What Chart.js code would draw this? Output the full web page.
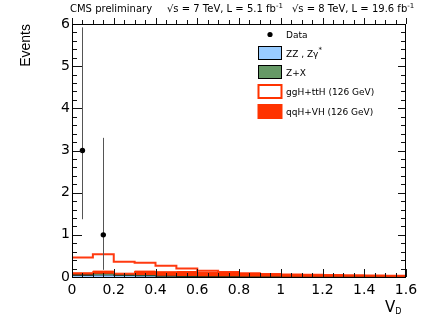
<!DOCTYPE html>
<html><head><meta charset="utf-8">
<script src="https://cdn.jsdelivr.net/npm/chart.js@4/dist/chart.umd.min.js"></script>
<style>html,body{margin:0;padding:0;background:#fff;overflow:hidden}canvas{display:block}</style>
</head><body>
<canvas id="c" width="427" height="327"></canvas>
<script>
// ---- data ----
const binEdges = [0,0.1,0.2,0.3,0.4,0.5,0.6,0.7,0.8,0.9,1.0,1.1,1.2,1.3,1.4,1.5,1.6];
const zzValues  = [0.04,0.05,0.035,0.03,0.02,0.015,0.012,0.01,0.007,0.006,0.005,0.004,0.003,0.003,0.002,0.002];
const zxValues  = [0.02,0.03,0.02,0.015,0.012,0.01,0.008,0.005,0.004,0.004,0.003,0.003,0.002,0.002,0.002,0.001];
const qqhValues = [0.04,0.06,0.035,0.095,0.093,0.105,0.09,0.085,0.069,0.05,0.042,0.038,0.035,0.03,0.026,0.022];
const gghValues = [0.36,0.40,0.27,0.20,0.14,0.07,0.04,0.02,0.01,0.01,0.008,0.007,0.007,0.007,0.007,0.007];
const dataX    = [0.05, 0.15];
const dataY    = [3, 1];
const dataLow  = [1.37, 0.17];
const dataHigh = [5.92, 3.30];
const xTickValues = [0,0.2,0.4,0.6,0.8,1.0,1.2,1.4,1.6];
const xTickLabels = ['0','0.2','0.4','0.6','0.8','1','1.2','1.4','1.6'];
const yTickValues = [0,1,2,3,4,5,6];
const yTickLabels = ['0','1','2','3','4','5','6'];

// ---- helpers ----
function cumulative(...arrs){ return arrs[0].map((_,i)=>arrs.reduce((s,a)=>s+a[i],0)); }
function steps(vals){
  const pts = vals.map((v,i)=>({x:binEdges[i], y:v}));
  pts.push({x:binEdges[binEdges.length-1], y:vals[vals.length-1]});
  return pts;
}
const zzTop  = cumulative(zzValues);
const zxTop  = cumulative(zzValues, zxValues);
const qqhTop = cumulative(zzValues, zxValues, qqhValues);
const gghTop = cumulative(zzValues, zxValues, qqhValues, gghValues);

const RED = '#ff3300';
const FONT = 'DejaVu Sans, Liberation Sans, Arial, sans-serif';

function supText(ctx, parts, x, y){
  let cx = x;
  for (const [t,size,dy] of parts){
    ctx.font = size + 'px ' + FONT;
    ctx.fillText(t, cx, y + dy);
    cx += ctx.measureText(t).width;
  }
  return cx;
}

const decor = {
  id: 'decor',
  beforeDatasetDraw(chart, args){
    if (args.index !== 4) return;
    const ctx = chart.ctx, xs = chart.scales.x, ys = chart.scales.y;
    ctx.save();
    ctx.strokeStyle = '#555'; ctx.lineWidth = 1;
    ctx.beginPath();
    dataX.forEach((x,i)=>{
      const px = Math.round(xs.getPixelForValue(x)) + 0.5;
      ctx.moveTo(px, ys.getPixelForValue(dataLow[i]));
      ctx.lineTo(px, ys.getPixelForValue(dataHigh[i]));
    });
    ctx.stroke();
    ctx.restore();
  },
  afterDatasetsDraw(chart){
    const ctx = chart.ctx, xs = chart.scales.x, ys = chart.scales.y;
    const {left,right,top,bottom} = chart.chartArea;
    ctx.save();
    ctx.strokeStyle = '#111'; ctx.lineWidth = 1;
    ctx.beginPath();
    for (let k=0;k<=32;k++){
      const px = Math.round(xs.getPixelForValue(k*0.05)) + 0.5;
      const major = k%4===0;
      ctx.moveTo(px, bottom); ctx.lineTo(px, bottom-(major?8:4));
      ctx.moveTo(px, top); ctx.lineTo(px, top-(major?6:4));
    }
    for (let k=0;k<=30;k++){
      const py = Math.round(ys.getPixelForValue(k*0.2)) + 0.5;
      const major = k%5===0;
      ctx.moveTo(left, py); ctx.lineTo(left+(major?10:5), py);
      ctx.moveTo(right, py); ctx.lineTo(right-(major?8:5), py);
    }
    ctx.stroke();
    ctx.strokeStyle = '#000';
    ctx.strokeRect(Math.round(left)+0.5, Math.round(top)+0.5, Math.round(right-left)-1, Math.round(bottom-top));
    ctx.restore();

    // legend
    ctx.save();
    ctx.fillStyle = '#000';
    const rows = [34.5, 53, 72, 91.5, 111.5];
    const bx = 258.5, bw = 23, bh = 13;
    ctx.beginPath(); ctx.arc(270, rows[0], 2.6, 0, Math.PI*2); ctx.fill();
    ctx.lineWidth = 1;
    ctx.fillStyle = '#99ccff'; ctx.fillRect(bx, rows[1]-bh/2, bw, bh);
    ctx.strokeStyle = '#000'; ctx.strokeRect(bx, rows[1]-bh/2, bw, bh);
    ctx.fillStyle = '#669966'; ctx.fillRect(bx, rows[2]-bh/2, bw, bh);
    ctx.strokeStyle = '#000'; ctx.strokeRect(bx, rows[2]-bh/2, bw, bh);
    ctx.lineWidth = 2; ctx.strokeStyle = RED; ctx.strokeRect(bx, rows[3]-bh/2, bw, bh);
    ctx.fillStyle = RED; ctx.fillRect(bx-1, rows[4]-bh/2-1, bw+2, bh+2);
    ctx.fillStyle = '#000';
    ctx.textBaseline = 'alphabetic';
    const tx = 286;
    supText(ctx, [['Data',9,0]], tx, rows[0]+3.5);
    supText(ctx, [['ZZ , Z\u03b3',9,0],['*',7,-5]], tx, rows[1]+3.5);
    supText(ctx, [['Z+X',9,0]], tx, rows[2]+3.5);
    supText(ctx, [['ggH+ttH (126 GeV)',9,0]], tx, rows[3]+3.5);
    supText(ctx, [['qqH+VH (126 GeV)',9,0]], tx, rows[4]+3.5);

    // header
    supText(ctx, [['CMS preliminary',10,0]], 70, 11.5);
    supText(ctx, [['\u221as = 7 TeV, L = 5.1 fb',10,0],['-1',7,-4]], 167, 11.5);
    supText(ctx, [['\u221as = 8 TeV, L = 19.6 fb',10,0],['-1',7,-4]], 292, 11.5);

    // x title
    supText(ctx, [['V',15,0],['D',8,1.5]], 385, 312);
    ctx.restore();
  }
};

new Chart(document.getElementById('c'), {
  type: 'line',
  data: {
    datasets: [
      {label:'ZZ , Z\u03b3*', data: steps(zzTop), stepped:'before', fill:'origin', backgroundColor:'#99ccff', borderColor:'#000', borderWidth:1, pointRadius:0, order:4},
      {label:'Z+X', data: steps(zxTop), stepped:'before', fill:'-1', backgroundColor:'#669966', borderColor:'#1b3b1b', borderWidth:1, pointRadius:0, order:3},
      {label:'qqH+VH (126 GeV)', data: steps(qqhTop), stepped:'before', fill:'-1', backgroundColor:RED, borderColor:RED, borderWidth:1, pointRadius:0, order:2},
      {label:'ggH+ttH (126 GeV)', data: steps(gghTop), stepped:'before', fill:false, borderColor:'#ff3a10', borderWidth:2, pointRadius:0, order:5},
      {type:'scatter', label:'Data', data: dataX.map((x,i)=>({x:x, y:dataY[i]})), pointRadius:2.7, pointBackgroundColor:'#000', pointBorderColor:'#000', borderWidth:0, showLine:false, order:-1}
    ]
  },
  options: {
    responsive:false, animation:false, devicePixelRatio:1,
    layout:{padding:{left:0, right:21, top:24, bottom:0}},
    plugins:{legend:{display:false}, tooltip:{enabled:false}},
    scales:{
      x:{type:'linear', min:0, max:1.6,
        grid:{display:false, drawTicks:false}, border:{display:false},
        afterBuildTicks:s=>{ s.ticks = xTickValues.map(v=>({value:v})); },
        afterFit:s=>{ s.height = 50; },
        ticks:{autoSkip:false, maxRotation:0, padding:5, color:'#000', font:{family:FONT, size:14},
          callback:(v,i)=>xTickLabels[i]}
      },
      y:{type:'linear', min:0, max:6,
        grid:{display:false, drawTicks:false}, border:{display:false},
        afterBuildTicks:s=>{ s.ticks = yTickValues.map(v=>({value:v})); },
        afterFit:s=>{ s.width = 72; },
        ticks:{padding:2, color:'#000', font:{family:FONT, size:14}, callback:(v,i)=>yTickLabels[i]},
        title:{display:true, text:'Events', align:'end', color:'#000', padding:{top:18, bottom:0},
          font:{family:'Liberation Sans Narrow, Liberation Sans, Arial, sans-serif', size:14}}
      }
    }
  },
  plugins:[decor]
});
</script>
</body></html>
